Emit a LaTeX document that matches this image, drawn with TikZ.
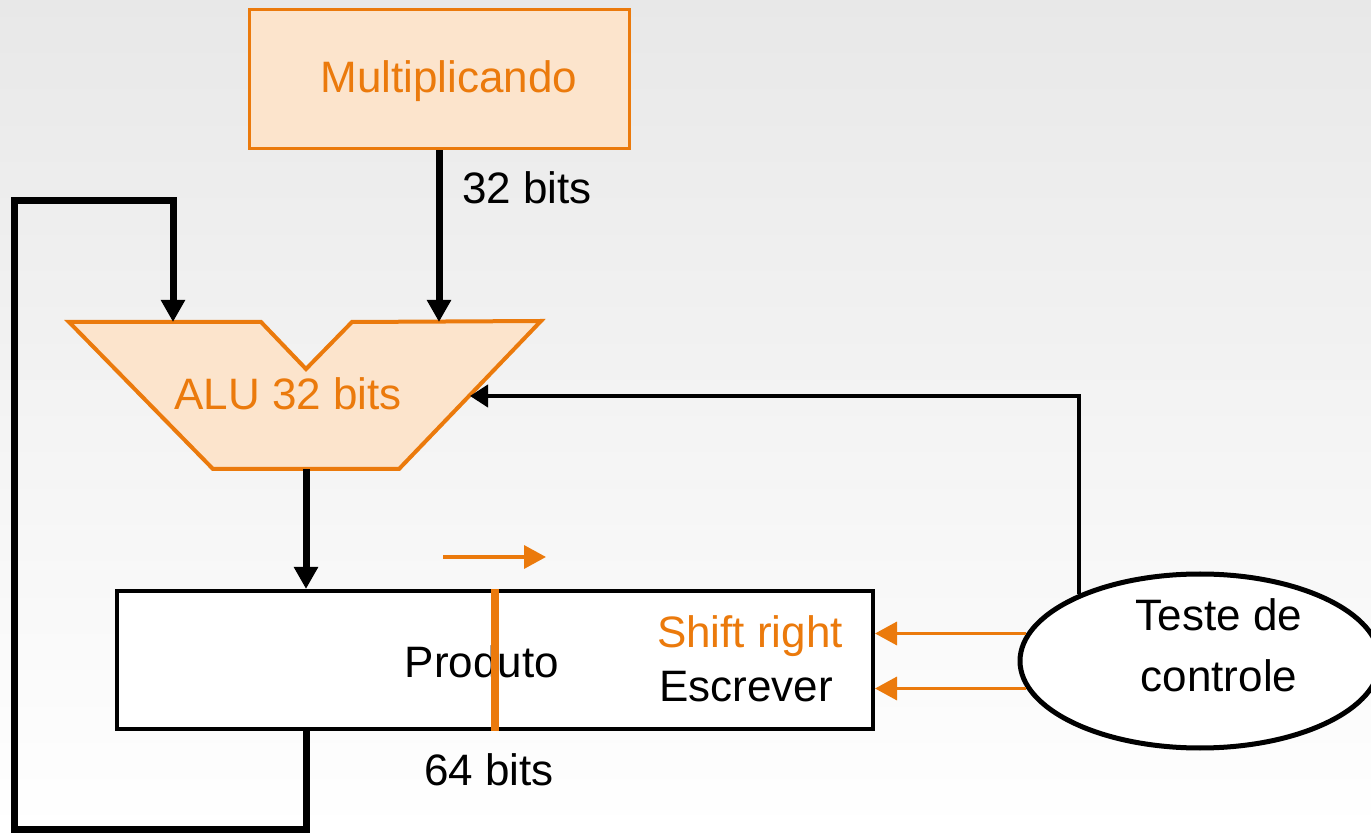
\documentclass[tikz,border=0pt]{standalone}
\usepackage{fontspec}
\setmainfont{Liberation Sans}
\usepackage{xcolor}
\usepackage{tikz}
\usetikzlibrary{arrows.meta,positioning,shapes.geometric}

\definecolor{accent}{HTML}{EB7A0C}
\definecolor{peach}{HTML}{FCE4CC}

\tikzset{
  lbl/.style={font=\fontsize{22}{30.5}\selectfont,inner sep=0pt,anchor=base},
  regbox/.style={draw=accent,line width=1.5pt,fill=peach,minimum width=190pt,minimum height=69.5pt,inner sep=0pt},
  bus/.style={line width=3.5pt,-{Triangle[length=11pt,width=11.5pt]}},
  ctl/.style={line width=2pt,-{Triangle[length=9pt,width=11pt]}},
  sig/.style={accent,line width=1.75pt,-{Triangle[length=11pt,width=11.5pt]}}
}

\begin{document}
\begin{tikzpicture}[x=0.5pt,y=-0.5pt]
\useasboundingbox (0,0) rectangle (1371,833);
\shade[top color=black!9,bottom color=white] (0,0) rectangle (1371,833);

% multiplicand register
\node[regbox] (mcand) at (439,79.5) {};
\node[lbl,text=accent] (mcandtxt) at (449,93) {Multiplicando};

% ALU outline
\coordinate (alu-tl) at (69,322);
\coordinate (alu-nl) at (261,322);
\coordinate (alu-nb) at (306,369);
\coordinate (alu-nr) at (352,322);
\coordinate (alu-tr) at (541,321);
\coordinate (alu-br) at (399,469);
\coordinate (alu-bl) at (213,469);
\draw[accent,line width=2pt,fill=peach,line join=miter]
  (alu-tl) -- (alu-nl) -- (alu-nb) -- (alu-nr) -- (alu-tr) -- (alu-br) -- (alu-bl) -- cycle;
\node[lbl,text=accent] (alu) at (288,410) {ALU 32 bits};
\coordinate (alu-ina) at (173,322);
\coordinate (alu-inb) at (439,322);
\coordinate (alu-out) at (306,469);
\coordinate (alu-op) at (470,396);

% product register
\node[draw,line width=2pt,fill=white,minimum width=378pt,minimum height=69pt,inner sep=0pt] (prod) at (495,660) {};
\node[lbl] (produto) at (482,677) {Produto};
\draw[accent,line width=4pt] (prod.north -| 495,0) -- (prod.south -| 495,0);
\node[lbl,text=accent] (shr) at (750,648) {Shift right};
\node[lbl] (wr) at (746,702) {Escrever};
\node[lbl] (w64) at (489,785) {64 bits};

% shift direction
\coordinate (dir-a) at (443,557);
\coordinate (dir-b) at (546,557);
\draw[sig] (dir-a) -- (dir-b);

% control
\node[ellipse,draw,line width=2.5pt,fill=white,minimum width=180pt,minimum height=87pt,inner sep=0pt] (ctrl) at (1200,661) {};
\node[lbl,align=center] (ctrltxt) at (1219,691) {Teste de\\controle};

% buses
\draw[bus] (mcand.south -| alu-inb) -- (alu-inb);
\node[lbl] (w32) at (527,204) {32 bits};
\draw[bus] (alu-out) -- (prod.north -| alu-out);
\coordinate (fb-bl) at (14,829);
\coordinate (fb-tl) at (14,201);
\draw[bus] (prod.south -| alu-out) |- (fb-bl) -- (fb-tl) -| (alu-ina);

% control lines
\draw[ctl] (ctrl.151) |- (alu-op);
\draw[sig] (ctrl.171) -- (ctrl.171 -| prod.east);
\draw[sig] (ctrl.189) -- (ctrl.189 -| prod.east);
\end{tikzpicture}
\end{document}
